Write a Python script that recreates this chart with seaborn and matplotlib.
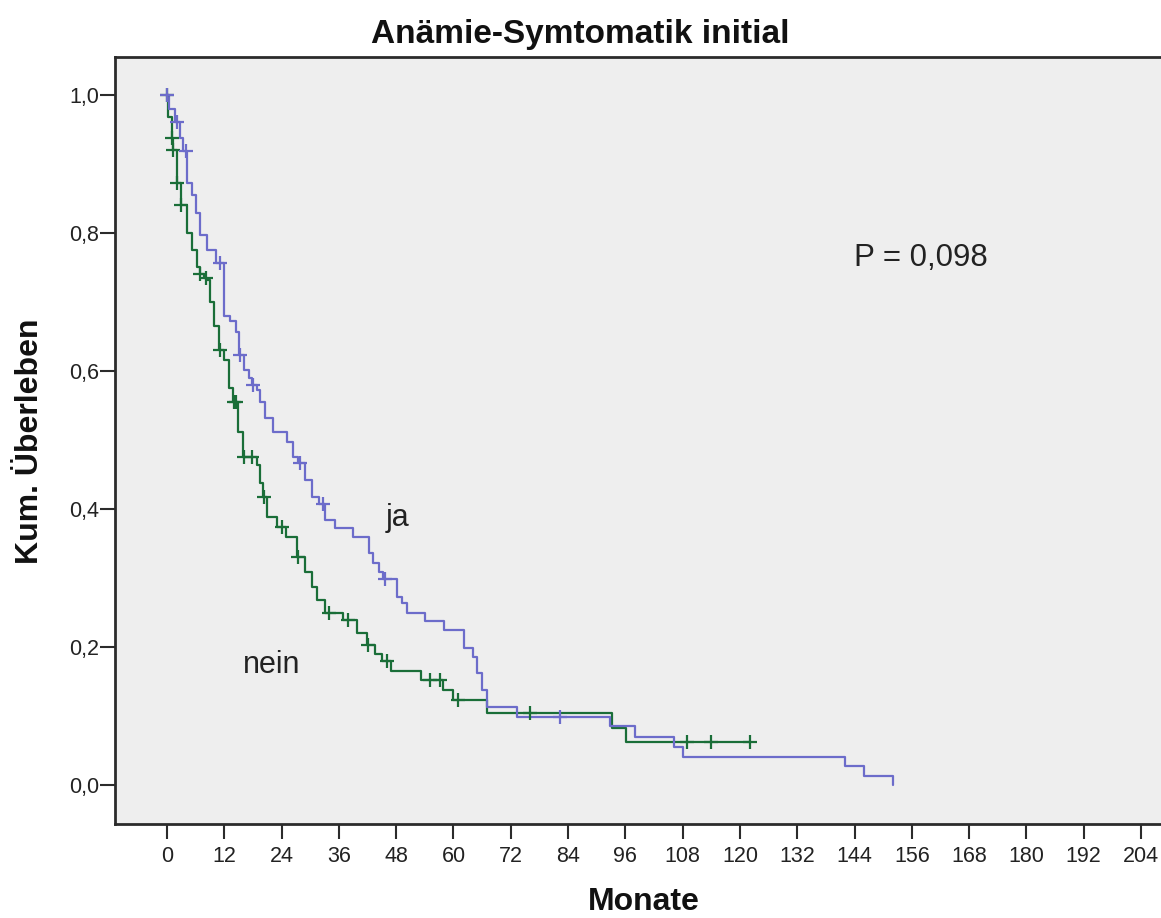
import numpy as np
import pandas as pd
import matplotlib
matplotlib.use("Agg")
import matplotlib.pyplot as plt
import seaborn as sns

# Kaplan-Meier step estimates (months, cumulative survival after each event)
ja_times = [0, 0.5, 1.7, 2.7, 3.4, 4.25, 5.2, 6.1, 7.0, 8.3, 10.3, 11.9, 13.2, 14.5, 15.1,
            16.1, 17.2, 17.9, 18.9, 19.5, 20.5, 22.3, 25.1, 26.3, 27.5, 28.9, 30.3, 31.8,
            33.1, 35.2, 39.0, 42.2, 43.2, 44.3, 45.3, 48.1, 49.2, 50.2, 54.0, 58.0, 62.1,
            64.0, 65.0, 65.9, 67.0, 73.3, 92.8, 98.0, 106.1, 108.0, 142.0, 146.0, 152.0]
ja_surv = [1.0, 0.98, 0.96, 0.937, 0.918, 0.872, 0.855, 0.829, 0.797, 0.775, 0.757, 0.679,
           0.672, 0.657, 0.623, 0.601, 0.59, 0.58, 0.572, 0.555, 0.532, 0.511, 0.497, 0.476,
           0.467, 0.442, 0.418, 0.407, 0.384, 0.372, 0.36, 0.336, 0.321, 0.309, 0.299, 0.273,
           0.264, 0.249, 0.237, 0.225, 0.198, 0.186, 0.162, 0.138, 0.113, 0.099, 0.085, 0.069,
           0.055, 0.041, 0.027, 0.013, 0.0]
ja_censored = [0, 2.0, 4.0, 11.1, 15.3, 18.1, 27.9, 32.6, 45.7, 82.3]

nein_times = [0, 0.3, 1.0, 1.2, 2.0, 2.9, 4.25, 5.2, 6.2, 6.8, 7.8, 8.4, 9.0, 9.9, 10.9,
              11.9, 13.0, 13.8, 14.9, 16.0, 18.8, 19.5, 20.2, 21.0, 23.0, 24.9, 27.2, 28.9,
              30.3, 31.4, 33.1, 36.9, 39.7, 41.8, 43.5, 45.0, 47.0, 53.1, 57.9, 59.8, 67.1,
              93.1, 96.1, 122.1]
nein_surv = [1.0, 0.968, 0.937, 0.92, 0.872, 0.84, 0.80, 0.775, 0.751, 0.74, 0.735, 0.732,
             0.70, 0.665, 0.63, 0.616, 0.575, 0.555, 0.512, 0.476, 0.463, 0.437, 0.418,
             0.389, 0.374, 0.36, 0.331, 0.309, 0.287, 0.268, 0.249, 0.239, 0.22, 0.203,
             0.19, 0.18, 0.165, 0.152, 0.138, 0.123, 0.104, 0.082, 0.063, 0.063]
nein_censored = [0, 1.1, 1.3, 2.1, 3.0, 7.0, 8.2, 11.0, 14.0, 14.4, 16.1, 17.7, 20.3, 24.0,
                 27.5, 34.0, 38.0, 42.1, 46.0, 55.1, 57.2, 61.0, 76.0, 109.0, 114.0, 122.1]

x_ticks = list(range(0, 205, 12))
y_ticks = [0.0, 0.2, 0.4, 0.6, 0.8, 1.0]
y_ticklabels = ["0,0", "0,2", "0,4", "0,6", "0,8", "1,0"]

title = "Anämie-Symtomatik initial"
x_label = "Monate"
y_label = "Kum. Überleben"
p_text = "P = 0,098"

color_ja = "#6c6cca"
color_nein = "#1a6e38"
ink = "#2b2b2b"

sns.set_theme(style="ticks", rc={"axes.facecolor": "#eeeeee", "figure.facecolor": "white"})
plt.rcParams["font.family"] = ["Liberation Sans", "DejaVu Sans"]


def censor_points(times, surv, cens):
    t = np.asarray(times)
    s = np.asarray(surv)
    idx = np.searchsorted(t, cens, side="right") - 1
    return pd.DataFrame({"t": cens, "s": s[idx]})


fig = plt.figure(figsize=(11.61, 9.18), dpi=100)
ax = fig.add_axes([115 / 1161, 0.1024, 1046 / 1161, 0.8356])

for times, surv, cens, col in [
    (nein_times, nein_surv, nein_censored, color_nein),
    (ja_times, ja_surv, ja_censored, color_ja),
]:
    df = pd.DataFrame({"t": times, "s": surv})
    sns.lineplot(data=df, x="t", y="s", estimator=None, sort=False,
                 drawstyle="steps-post", color=col, linewidth=1.6, ax=ax)
    cp = censor_points(times, surv, cens)
    sns.scatterplot(data=cp, x="t", y="s", marker="+", s=105, linewidth=1.6,
                    color=col, ax=ax, zorder=3)

ax.set_xlim(-10.9, 208.2)
ax.set_ylim(-0.0565, 1.055)
ax.set_xticks(x_ticks)
ax.set_xticklabels([str(v) for v in x_ticks])
ax.set_yticks(y_ticks)
ax.set_yticklabels(y_ticklabels)

for side in ["left", "bottom", "top"]:
    ax.spines[side].set_color(ink)
    ax.spines[side].set_linewidth(2.0)
ax.spines["right"].set_visible(False)

ax.tick_params(axis="both", length=10.5, width=1.5, color=ink, labelsize=15.5,
               labelcolor="#222222")
ax.tick_params(axis="x", pad=5)
ax.tick_params(axis="y", pad=1)

ax.set_xlabel(x_label, fontsize=23, fontweight="bold", color="#111111")
ax.set_ylabel(y_label, fontsize=23, fontweight="bold", color="#111111")
ax.xaxis.set_label_coords(0.506, -0.082)
ax.yaxis.set_label_coords(-0.081, 0.4994)
ax.yaxis.label.set_va("center")

ax.text(143.9, 0.752, p_text, fontsize=22.5, ha="left", va="baseline", color="#222222")
ax.text(45.7, 0.375, "ja", fontsize=22, ha="left", va="baseline", color="#222222")
ax.text(15.9, 0.162, "nein", fontsize=22, ha="left", va="baseline", color="#222222")

fig.text(0.5, 1 - 43 / 918, title, fontsize=24, fontweight="bold", ha="center",
         va="baseline", color="#111111")

fig.savefig("out.png", dpi=100)
